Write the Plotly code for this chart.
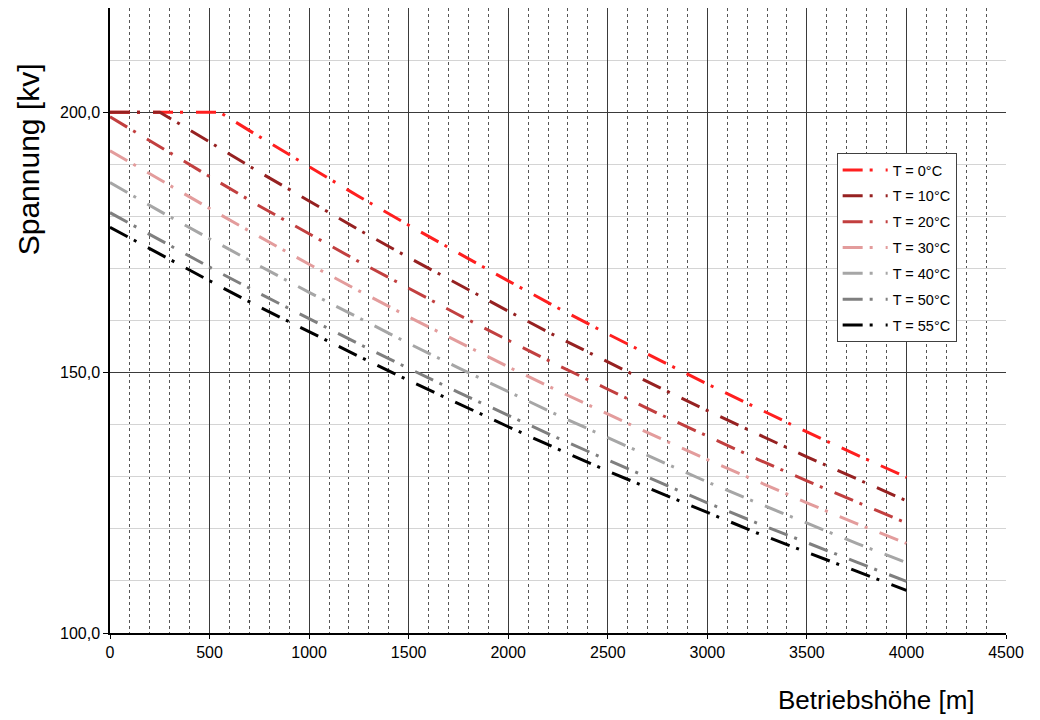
import plotly.graph_objects as go

heights = [0, 250, 500, 550, 750, 1000, 1250, 1500, 1750, 2000, 2250, 2500,
           2750, 3000, 3250, 3500, 3750, 4000]

v_t0 = [200, 200, 200, 200, 195.3, 189.5, 183.8, 178.3, 172.9, 167.6, 162.4,
        157.4, 152.6, 147.8, 143.2, 138.6, 134.2, 129.9]
v_t10 = [200, 200, 194.3, 193.1, 188.5, 182.9, 177.4, 172.1, 166.9, 161.8,
         156.8, 152.0, 147.3, 142.7, 138.2, 133.8, 129.6, 125.4]
v_t20 = [199.1, 193.3, 187.6, 186.5, 182.0, 176.6, 171.3, 166.2, 161.1, 156.2,
         151.4, 146.8, 142.2, 137.8, 133.4, 129.2, 125.1, 121.1]
v_t30 = [192.6, 187.0, 181.5, 180.4, 176.1, 170.8, 165.7, 160.7, 155.9, 151.1,
         146.5, 142.0, 137.6, 133.3, 129.1, 125.0, 121.0, 117.2]
v_t40 = [186.5, 181.0, 175.7, 174.7, 170.5, 165.4, 160.5, 155.6, 150.9, 146.3,
         141.8, 137.5, 133.2, 129.0, 125.0, 121.1, 117.2, 113.5]
v_t50 = [180.7, 175.4, 170.2, 169.2, 165.2, 160.3, 155.5, 150.8, 146.2, 141.8,
         137.4, 133.2, 129.1, 125.0, 121.1, 117.3, 113.6, 109.9]
v_t55 = [177.9, 172.7, 167.6, 166.6, 162.6, 157.8, 153.1, 148.5, 144.0, 139.6,
         135.3, 131.1, 127.1, 123.1, 119.2, 115.5, 111.8, 108.2]

series_names = ["T = 0°C", "T = 10°C", "T = 20°C", "T = 30°C", "T = 40°C",
                "T = 50°C", "T = 55°C"]
series_values = [v_t0, v_t10, v_t20, v_t30, v_t40, v_t50, v_t55]
series_colors = ["#FF1F1F", "#962121", "#C23F3F", "#E39C9C", "#A6A6A6",
                 "#7F7F7F", "#000000"]

x_ticks = [0, 500, 1000, 1500, 2000, 2500, 3000, 3500, 4000, 4500]
y_ticks = [100, 150, 200]
y_tick_labels = ["100,0", "150,0", "200,0"]

FONT = "Arial, Liberation Sans, sans-serif"

fig = go.Figure()
for i, (name, vals, col) in enumerate(zip(series_names, series_values, series_colors)):
    fig.add_trace(go.Scatter(
        x=heights, y=vals, name=name, mode="lines",
        legendgroup=f"g{i}",
        line=dict(color=col, width=3, dash="20px,7px,3px,13px"),
    ))

fig.update_layout(
    width=1032, height=712,
    margin=dict(l=102, r=34, t=0, b=87, autoexpand=False),
    paper_bgcolor="white", plot_bgcolor="white",
    font=dict(family=FONT, size=16, color="#000000"),
    showlegend=True,
    legend=dict(
        x=0.811, y=0.768, xanchor="left", yanchor="top",
        bgcolor="white", bordercolor="#404040", borderwidth=1,
        font=dict(family=FONT, size=14.5, color="#000000"),
        tracegroupgap=4, itemwidth=45,
    ),
    xaxis=dict(
        range=[0, 4500], tickvals=x_ticks, ticktext=[str(v) for v in x_ticks],
        showgrid=True, gridcolor="#3A3A3A", gridwidth=1,
        showline=True, linecolor="#000000", linewidth=1.5,
        ticks="outside", ticklen=4, tickcolor="#000000",
        zeroline=False, mirror=False,
        tickfont=dict(size=16),
        minor=dict(dtick=100, tick0=0, showgrid=True, gridcolor="#555555",
                   griddash="dot", gridwidth=1),
    ),
    yaxis=dict(
        range=[100, 220], tickvals=y_ticks, ticktext=y_tick_labels,
        showgrid=True, gridcolor="#3A3A3A", gridwidth=1,
        showline=True, linecolor="#000000", linewidth=1.5,
        ticks="outside", ticklen=5, tickcolor="#000000",
        zeroline=False,
        tickfont=dict(size=16),
        minor=dict(dtick=10, tick0=100, showgrid=True, gridcolor="#D4D4D4",
                   gridwidth=1),
    ),
    annotations=[
        dict(text="Betriebshöhe [m]", xref="paper", yref="paper",
             x=0.855, y=-0.107, xanchor="center", yanchor="middle",
             showarrow=False, font=dict(family=FONT, size=26)),
        dict(text="Spannung [kv]", xref="paper", yref="paper",
             x=-0.0915, y=0.758, xanchor="center", yanchor="middle",
             textangle=-90, showarrow=False, font=dict(family=FONT, size=30)),
    ],
)

fig.write_html("out.html")
